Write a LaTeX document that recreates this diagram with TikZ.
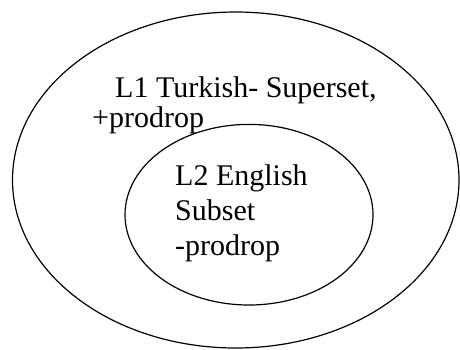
\documentclass[tikz,border=0pt]{standalone}
\usepackage{fontspec}
\setmainfont{Liberation Serif}
\usetikzlibrary{shapes.geometric}
\tikzset{
  setring/.style={draw, ellipse, line width=1.2pt, inner sep=0pt},
  txt/.style={anchor=base west, inner sep=0pt, font=\fontsize{30}{35}\selectfont},
}

\begin{document}
\begin{tikzpicture}[x=1pt, y=-1pt]
    \useasboundingbox (0,0) rectangle (460,349);
    % the two sets
    \node[setring, minimum width=446.5pt, minimum height=336pt] (superset) at (235.75,180) {};
    \node[setring, minimum width=248pt, minimum height=180.6pt] (subset) at (249,214.7) {};
    % outer set text
    \node[txt] (l1) at (115,97) {L1 Turkish- Superset,};
    \node[txt] (plus) at (92,127) {+prodrop};
    % inner set text
    \node[txt] (l2) at (175,185) {L2 English};
    \node[txt] (sub) at (175,220) {Subset};
    \node[txt] (minus) at (175,255) {-prodrop};
  \end{tikzpicture}
\end{document}
